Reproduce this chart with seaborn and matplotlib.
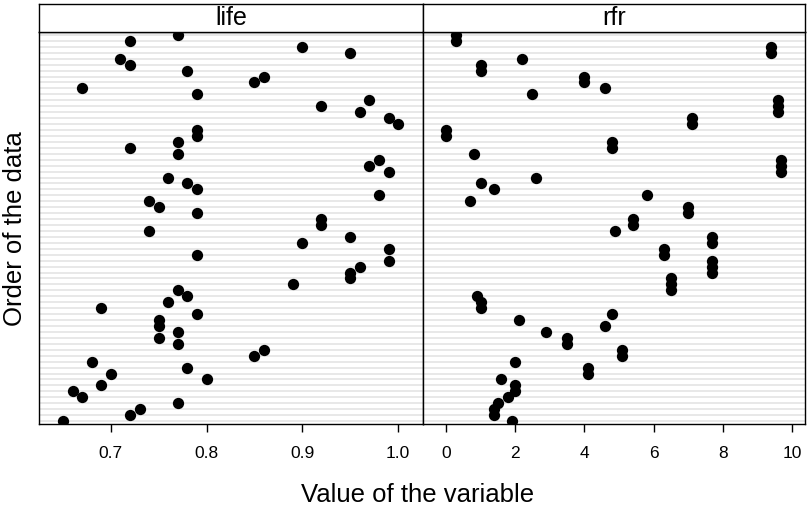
import numpy as np
import pandas as pd
import matplotlib
matplotlib.use("Agg")
import matplotlib.pyplot as plt
import seaborn as sns

# Observations in data order (observation 1 is drawn at the bottom)
life = [0.65, 0.72, 0.73, 0.77, 0.67, 0.66, 0.69, 0.80, 0.70, 0.78,
        0.68, 0.85, 0.86, 0.77, 0.75, 0.77, 0.75, 0.75, 0.79, 0.69,
        0.76, 0.78, 0.77, 0.89, 0.95, 0.95, 0.96, 0.99, 0.79, 0.99,
        0.90, 0.95, 0.74, 0.92, 0.92, 0.79, 0.75, 0.74, 0.98, 0.79,
        0.78, 0.76, 0.99, 0.97, 0.98, 0.77, 0.72, 0.77, 0.79, 0.79,
        1.00, 0.99, 0.96, 0.92, 0.97, 0.79, 0.67, 0.85, 0.86, 0.78,
        0.72, 0.71, 0.95, 0.90, 0.72, 0.77]
rfr = [1.9, 1.4, 1.4, 1.5, 1.8, 2.0, 2.0, 1.6, 4.1, 4.1,
       2.0, 5.1, 5.1, 3.5, 3.5, 2.9, 4.6, 2.1, 4.8, 1.0,
       1.0, 0.9, 6.5, 6.5, 6.5, 7.7, 7.7, 7.7, 6.3, 6.3,
       7.7, 7.7, 4.9, 5.4, 5.4, 7.0, 7.0, 0.7, 5.8, 1.4,
       1.0, 2.6, 9.7, 9.7, 9.7, 0.8, 4.8, 4.8, 0.0, 0.0,
       7.1, 7.1, 9.6, 9.6, 9.6, 2.5, 4.6, 4.0, 4.0, 1.0,
       1.0, 2.2, 9.4, 9.4, 0.3, 0.3]

panel_names = ["life", "rfr"]
life_ticks = [0.7, 0.8, 0.9, 1.0]
life_ticklabels = ["0.7", "0.8", "0.9", "1.0"]
rfr_ticks = [0, 2, 4, 6, 8, 10]
rfr_ticklabels = ["0", "2", "4", "6", "8", "10"]

order = np.arange(1, len(life) + 1)
df = pd.DataFrame({"order": np.concatenate([order, order]),
                   "value": life + rfr,
                   "variable": [panel_names[0]] * len(life) + [panel_names[1]] * len(rfr)})

sns.set_style("white")
plt.rcParams["font.family"] = ["Liberation Sans", "DejaVu Sans"]
plt.rcParams["text.color"] = "black"
plt.rcParams["axes.labelcolor"] = "black"
plt.rcParams["xtick.color"] = "black"

W, H = 807, 508
fig = plt.figure(figsize=(W / 100, H / 100), dpi=100)

def fx(px):
    return px / W

def fy(py):
    return 1 - py / H

left, mid, right = 39, 423, 805
top, bottom, strip_top = 32.3, 424, 4

panels = [
    (panel_names[0], left, mid, (0.625, 1.026), life_ticks, life_ticklabels),
    (panel_names[1], mid, right, (-0.665, 10.38), rfr_ticks, rfr_ticklabels),
]

for name, x0, x1, xlim, ticks, ticklabels in panels:
    ax = fig.add_axes([fx(x0), fy(bottom), fx(x1 - x0), fy(top) - fy(bottom)])
    sub = df[df["variable"] == name]
    ax.hlines(sub["order"], xlim[0], xlim[1], color="#e6e6e6", lw=1.3, zorder=0)
    sns.scatterplot(data=sub, x="value", y="order", ax=ax, color="black",
                    s=66, linewidth=0, zorder=3, legend=False)
    ax.set_xlim(*xlim)
    ax.set_ylim(0.5, len(life) + 0.45)
    ax.set_xticks(ticks)
    ax.set_xticklabels(ticklabels)
    ax.set_yticks([])
    ax.set_xlabel("")
    ax.set_ylabel("")
    ax.tick_params(axis="x", direction="out", length=6, width=1, pad=10,
                   labelsize=12.5, colors="black", bottom=True)
    for sp in ax.spines.values():
        sp.set_color("black")
        sp.set_linewidth(1.0)
    # strip with the variable name
    sax = fig.add_axes([fx(x0), fy(top), fx(x1 - x0), fy(strip_top) - fy(top)])
    sax.set_xticks([])
    sax.set_yticks([])
    sax.set_facecolor("white")
    for sp in sax.spines.values():
        sp.set_color("black")
        sp.set_linewidth(1.0)
    sax.text(0.5, 0.5, name, ha="center", va="center", fontsize=18,
             color="black", transform=sax.transAxes)

fig.text(fx(418), fy(495), "Value of the variable",
         ha="center", va="center", fontsize=18.5, color="black")
fig.text(fx(15), fy((top + bottom) / 2), "Order of the data",
         ha="center", va="center", rotation=90, fontsize=18.5, color="black")

fig.savefig("out.png", dpi=100)
